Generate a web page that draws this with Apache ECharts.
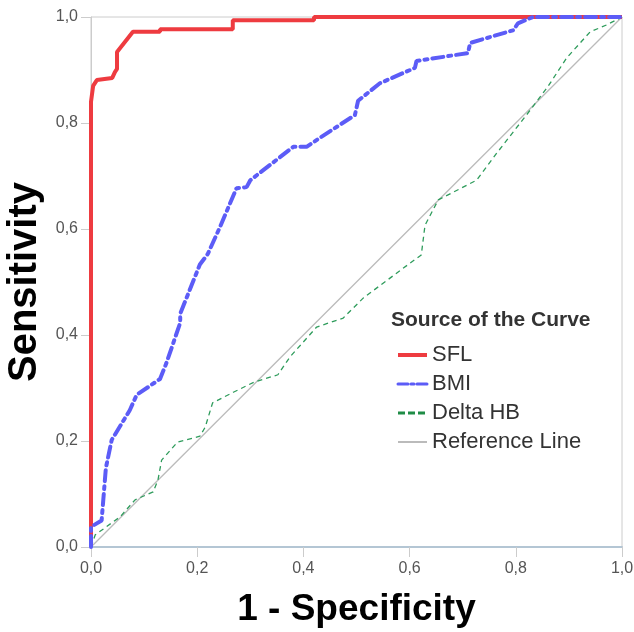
<!DOCTYPE html>
<html>
<head>
<meta charset="utf-8">
<script src="https://cdn.jsdelivr.net/npm/echarts@6/dist/echarts.min.js"></script>
<style>html,body{margin:0;padding:0;background:#fff;}#c{width:634px;height:632px;}</style>
</head>
<body>
<div id="c"></div>
<script>
var seriesNames = ['SFL', 'BMI', 'Delta HB', 'Reference Line'];
var axisTicks = [0, 0.2, 0.4, 0.6, 0.8, 1.0];

var sflX = [0, 0, 0.004, 0.011, 0.04, 0.045, 0.049, 0.049, 0.079, 0.13, 0.13, 0.267, 0.267, 0.42, 0.42, 1.0];
var sflY = [0, 0.84, 0.87, 0.881, 0.885, 0.896, 0.902, 0.934, 0.972, 0.972, 0.977, 0.977, 0.994, 0.994, 1.0, 1.0];

var bmiX = [0, 0, 0.02, 0.028, 0.039, 0.073, 0.086, 0.13, 0.142, 0.168, 0.168, 0.205, 0.22, 0.243, 0.274, 0.293, 0.30, 0.381, 0.406, 0.431, 0.497, 0.503, 0.544, 0.61, 0.613, 0.71, 0.714, 0.795, 0.804, 0.832, 1.0];
var bmiY = [0, 0.038, 0.05, 0.149, 0.202, 0.258, 0.287, 0.317, 0.347, 0.423, 0.44, 0.533, 0.553, 0.604, 0.677, 0.679, 0.692, 0.755, 0.755, 0.772, 0.815, 0.842, 0.875, 0.904, 0.917, 0.932, 0.951, 0.975, 0.988, 1.0, 1.0];

var hbX = [0, 0.008, 0.055, 0.083, 0.117, 0.126, 0.133, 0.163, 0.205, 0.215, 0.229, 0.268, 0.307, 0.352, 0.375, 0.425, 0.475, 0.513, 0.56, 0.6, 0.622, 0.629, 0.654, 0.726, 0.764, 0.82, 0.86, 0.896, 0.94, 0.971, 1.0];
var hbY = [0, 0.023, 0.057, 0.089, 0.104, 0.126, 0.164, 0.198, 0.209, 0.226, 0.272, 0.292, 0.311, 0.325, 0.359, 0.415, 0.432, 0.47, 0.505, 0.535, 0.551, 0.607, 0.655, 0.692, 0.743, 0.815, 0.868, 0.923, 0.972, 0.985, 1.0];

var refX = [0, 1];
var refY = [0, 1];

function pairs(xs, ys) { return xs.map(function (x, i) { return [x, ys[i]]; }); }
function fmt(v) { return v.toFixed(1).replace('.', ','); }

var FONT = '"Liberation Sans", Arial, sans-serif';
var RED = '#ee3b40', BLUE = '#5c5cf7', GREEN = '#2f9c5c', GRAY = '#bbbbbb';
var chart = echarts.init(document.getElementById('c'), null, { renderer: 'canvas' });
chart.setOption({
  animation: false,
  backgroundColor: '#ffffff',
  grid: { left: 91, right: 12, top: 17, bottom: 85, show: true, borderColor: '#cccccc', borderWidth: 1,
          containLabel: false, outerBoundsMode: 'none' },
  title: {
    text: 'Source of the Curve', left: 391, top: 310, padding: 0,
    textStyle: { fontFamily: FONT, fontSize: 21, fontWeight: 'bold', color: '#333333' }
  },
  legend: {
    orient: 'vertical', left: 396, top: 344, itemGap: 7, itemWidth: 29, itemHeight: 14, padding: 0,
    itemStyle: { opacity: 0 },
    data: [
      { name: seriesNames[0], lineStyle: { color: RED, width: 4, type: 'solid' } },
      { name: seriesNames[1], lineStyle: { color: BLUE, width: 3, type: [10, 3, 3, 3] } },
      { name: seriesNames[2], lineStyle: { color: '#1f8c46', width: 3, type: [7, 3] } },
      { name: seriesNames[3], lineStyle: { color: GRAY, width: 2, type: 'solid' } }
    ],
    textStyle: { fontFamily: FONT, fontSize: 22, color: '#333333' }
  },
  xAxis: {
    type: 'value', min: 0, max: 1, interval: 0.2,
    name: '1 - Specificity', nameLocation: 'middle', nameGap: 44,
    nameTextStyle: { fontFamily: FONT, fontSize: 37, fontWeight: 'bold', color: '#000000' },
    axisLine: { show: true, lineStyle: { color: '#b4c6d4', width: 2 } },
    axisTick: { show: true, inside: false, length: 10, lineStyle: { color: '#cccccc' } },
    axisLabel: { formatter: fmt, margin: 14, fontFamily: FONT, fontSize: 16, color: '#555555' },
    splitLine: { show: false }
  },
  yAxis: {
    type: 'value', min: 0, max: 1, interval: 0.2,
    name: 'Sensitivity', nameLocation: 'middle', nameGap: 43, nameRotate: 90,
    nameTextStyle: { fontFamily: FONT, fontSize: 40, fontWeight: 'bold', color: '#000000' },
    axisLine: { show: true, lineStyle: { color: '#cccccc', width: 1 } },
    axisTick: { show: true, inside: false, length: 10, lineStyle: { color: '#cccccc' } },
    axisLabel: { formatter: fmt, margin: 13, fontFamily: FONT, fontSize: 16, color: '#555555' },
    splitLine: { show: false }
  },
  series: [
    { name: seriesNames[0], type: 'line', symbol: 'none', data: pairs(sflX, sflY), z: 4,
      itemStyle: { color: RED }, lineStyle: { color: RED, width: 4 } },
    { name: seriesNames[1], type: 'line', symbol: 'none', data: pairs(bmiX, bmiY), z: 5,
      itemStyle: { color: BLUE }, lineStyle: { color: BLUE, width: 4, type: [11, 5, 3, 5], cap: 'round' } },
    { name: seriesNames[2], type: 'line', symbol: 'none', data: pairs(hbX, hbY), z: 3,
      itemStyle: { color: GREEN }, lineStyle: { color: GREEN, width: 1.3, type: [5, 4] } },
    { name: seriesNames[3], type: 'line', symbol: 'none', data: pairs(refX, refY), z: 2,
      itemStyle: { color: GRAY }, lineStyle: { color: GRAY, width: 1.3 } }
  ]
});
</script>
</body>
</html>
